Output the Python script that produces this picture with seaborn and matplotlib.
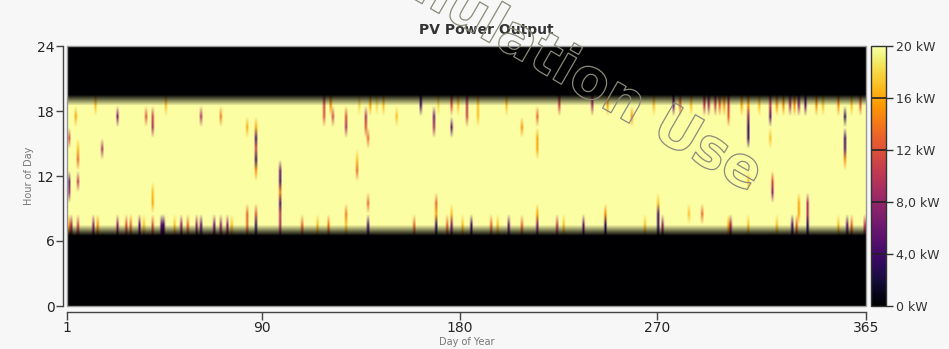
import numpy as np
import pandas as pd
import matplotlib
matplotlib.use("Agg")
import matplotlib.pyplot as plt
import matplotlib.patheffects as pe
import seaborn as sns

# ---------------- data ----------------
days = list(range(1, 366))
hours = list(range(24))
daylight_hours = list(range(7, 19))      # hour cells at full output
full_output_kw = 20

# (day, hour, kW) cells below full output
dips_morning = [
    (2, 7, 15), (3, 7, 9), (6, 7, 11), (13, 7, 8), (15, 7, 15), (24, 7, 8), (28, 7, 12),
    (30, 7, 13), (34, 7, 6), (36, 7, 17), (40, 7, 12), (44, 7, 5), (45, 7, 4), (50, 7, 17),
    (53, 7, 8), (56, 7, 13), (60, 7, 8), (62, 7, 5), (68, 7, 6), (71, 7, 8), (74, 7, 8),
    (76, 7, 17), (83, 7, 13), (83, 8, 13), (87, 7, 3), (87, 8, 12), (98, 7, 9), (98, 8, 10),
    (108, 7, 13), (115, 7, 17), (120, 7, 14), (128, 7, 17), (128, 8, 14), (138, 7, 4),
    (159, 7, 13), (169, 7, 3), (169, 8, 16), (174, 7, 13), (176, 7, 7), (176, 8, 17),
    (181, 7, 17), (185, 7, 4), (194, 7, 13), (197, 7, 17), (202, 7, 6), (208, 7, 13),
    (215, 7, 7), (215, 8, 16), (224, 7, 10), (227, 7, 17), (236, 7, 6), (246, 7, 3),
    (246, 8, 15), (264, 7, 17), (270, 7, 3), (270, 8, 4), (272, 7, 8), (284, 8, 17),
    (290, 8, 13), (302, 7, 16), (303, 7, 8), (311, 7, 17), (324, 7, 17), (331, 7, 4),
    (333, 7, 13), (338, 7, 3), (338, 8, 9), (352, 7, 17), (356, 7, 5), (358, 7, 13),
    (364, 7, 10), (365, 7, 11),
]
dips_evening = [
    (5, 17, 16), (14, 18, 17), (24, 17, 7), (37, 17, 12), (40, 17, 11), (40, 16, 9),
    (46, 18, 17), (62, 17, 9), (71, 17, 14), (83, 16, 16), (87, 16, 16), (118, 18, 11),
    (118, 17, 12), (121, 18, 15), (122, 17, 11), (128, 17, 12), (128, 16, 9), (134, 18, 18),
    (137, 17, 9), (137, 16, 12), (139, 18, 16), (142, 18, 18), (145, 18, 17), (151, 17, 17),
    (162, 18, 4), (168, 17, 6), (168, 16, 9), (170, 18, 18), (176, 18, 12), (176, 16, 5),
    (179, 18, 17), (183, 18, 10), (183, 17, 11), (188, 18, 17), (188, 17, 17), (201, 18, 17),
    (208, 16, 15), (215, 17, 13), (225, 18, 11), (240, 18, 9), (247, 18, 16), (258, 17, 15),
    (268, 18, 17), (277, 18, 6), (280, 18, 13), (285, 18, 17), (291, 18, 10), (293, 18, 9),
    (296, 18, 11), (298, 18, 13), (300, 18, 15), (302, 18, 11), (302, 17, 13), (308, 18, 16),
    (311, 18, 15), (311, 17, 8), (311, 16, 3), (316, 18, 17), (321, 18, 10), (321, 17, 5),
    (324, 18, 15), (327, 18, 15), (330, 18, 9), (332, 18, 15), (334, 18, 8), (337, 18, 6),
    (342, 18, 15), (345, 18, 17), (352, 18, 15), (355, 17, 3), (358, 18, 17), (362, 18, 13),
]
dips_midday = [
    (2, 15, 11), (17, 14, 9), (6, 14, 17), (6, 13, 13), (2, 11, 5), (2, 10, 8), (6, 11, 10),
    (40, 10, 17), (40, 9, 16), (87, 15, 4), (87, 14, 11), (87, 13, 3), (87, 12, 15),
    (98, 12, 6), (98, 11, 4), (98, 10, 14), (98, 9, 4), (133, 13, 17), (133, 12, 13),
    (138, 15, 13), (138, 9, 13), (169, 9, 13), (215, 15, 16), (215, 14, 16), (270, 9, 17),
    (311, 15, 4), (311, 11, 17), (321, 15, 17), (322, 11, 12), (322, 10, 8), (334, 9, 16),
    (334, 8, 16), (338, 9, 9), (355, 15, 4), (355, 14, 5), (355, 13, 15),
]

x_ticks = [1, 90, 180, 270, 365]
y_ticks = [0, 6, 12, 18, 24]
cbar_ticks = [0, 4, 8, 12, 16, 20]
cbar_labels = ["0 kW", "4,0 kW", "8,0 kW", "12 kW", "16 kW", "20 kW"]

# ---------------- build table ----------------
power = pd.DataFrame(0.0, index=hours, columns=days)
power.loc[daylight_hours, :] = full_output_kw
for d, h, v in dips_morning + dips_evening + dips_midday:
    power.loc[h, d] = v

# ---------------- figure ----------------
sns.set_style("ticks")
bg = "#f7f7f7"
plt.rcParams["font.family"] = ["DejaVu Sans"]
fig = plt.figure(figsize=(9.49, 3.49), dpi=100, facecolor=bg)
W, H = 949, 349
ax = fig.add_axes([67 / W, (H - 306) / H, 799 / W, 260 / H])
cax = fig.add_axes([871 / W, (H - 306) / H, 15 / W, 260 / H])

cmap = sns.color_palette("inferno", as_cmap=True)
# seaborn heatmap (cells + colorbar) ...
sns.heatmap(power, cmap=cmap, vmin=0, vmax=20, ax=ax, cbar_ax=cax,
            xticklabels=False, yticklabels=False)
# ... rendered smoothly like the reference (same cells, same axes scale)
ax.imshow(power.values, cmap=cmap, vmin=0, vmax=20, origin="lower",
          extent=(0, len(days), 0, len(hours)), aspect="auto",
          interpolation="bilinear", interpolation_stage="rgba", zorder=2)

ax.set_xlim(0.5, len(days) - 0.5)
ax.set_ylim(0, 24)
ax.set_xticks([d - 0.5 for d in x_ticks])
ax.set_xticklabels([str(d) for d in x_ticks], fontsize=9, color="#333333")
ax.set_yticks(y_ticks)
ax.set_yticklabels([str(h) for h in y_ticks], fontsize=9, color="#333333", rotation=0)
ax.tick_params(axis="x", length=6, width=1, color="#444444", pad=1)
ax.tick_params(axis="y", length=5, width=1, color="#444444", pad=1)
for s in ["left", "bottom"]:
    ax.spines[s].set_visible(True)
    ax.spines[s].set_color("#444444")
    ax.spines[s].set_linewidth(1)
ax.spines["left"].set_position(("outward", 3))
ax.spines["bottom"].set_position(("outward", 4))
for s in ["top", "right"]:
    ax.spines[s].set_visible(False)
frame = plt.Rectangle((0, 0), 1, 1, transform=ax.transAxes, fill=False,
                      edgecolor="#999999", linewidth=1, zorder=5, clip_on=False)
ax.add_patch(frame)
ax.set_xlabel("Day of Year", fontsize=7, color="#777777", labelpad=1)
ax.set_ylabel("Hour of Day", fontsize=7, color="#777777", labelpad=2)

# colorbar
cb = ax.collections[0].colorbar
cb.outline.set_linewidth(1)
cb.outline.set_edgecolor("#333333")
cb.set_ticks(cbar_ticks)
cb.set_ticklabels(cbar_labels)
cax.tick_params(length=5, width=1, color="#333333", labelsize=9,
                labelcolor="#333333", pad=2)
for v in cbar_ticks[1:-1]:
    cax.axhline(v, color="#222222", linewidth=1.2)

fig.text(486 / W, 1 - 30 / H, "PV Power Output", ha="center", va="center",
         fontsize=10, fontweight="bold", color="#333333")

# watermark
fig.text(553 / W, 1 - 62 / H, "Simulation Use", rotation=-30, ha="center", va="center",
         fontsize=40, fontweight="bold", color="none", zorder=10,
         path_effects=[pe.withStroke(linewidth=0.9, foreground="#8a8a7a")])

fig.savefig("out.png", dpi=100, facecolor=bg)
